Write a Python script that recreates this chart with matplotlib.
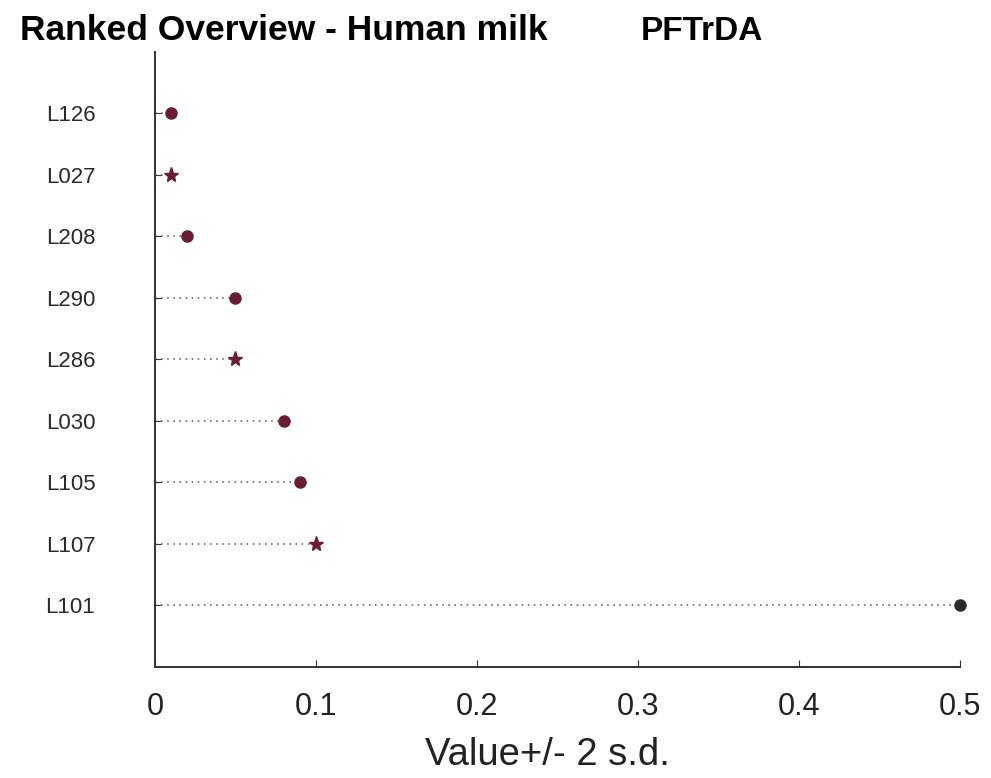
import matplotlib
matplotlib.use("Agg")
import matplotlib.pyplot as plt

plt.rcParams["font.family"] = ["Liberation Sans", "DejaVu Sans"]

LABS = ["L126", "L027", "L208", "L290", "L286", "L030", "L105", "L107", "L101"]
VALS = [0.01, 0.01, 0.02, 0.05, 0.05, 0.08, 0.09, 0.10, 0.50]
MARKS = ["o", "*", "o", "o", "*", "o", "o", "*", "o"]
COLS = ["#6a1c33"] * 8 + ["#2b2b2b"]
XTICKS = [0, 0.1, 0.2, 0.3, 0.4, 0.5]

fig = plt.figure(figsize=(9.91, 7.78), dpi=100)
ax = fig.add_axes([0.1564, 0.1427, 0.8123, 0.7905])

ys = list(range(1, len(LABS) + 1))
for y, v, m, c in zip(ys, VALS, MARKS, COLS):
    ax.plot([0, v], [y, y], ls=(0, (1, 3)), color="#555555", lw=1.1, zorder=2)
    ax.plot(v, y, marker=m, ms=8 if m == "o" else 11, color=c, mec=c, zorder=3,
            ls="none", clip_on=False)

ax.set_xlim(0, 0.5)
ax.set_ylim(10, 0)
ax.set_yticks(ys)
ax.set_yticklabels(LABS, fontsize=16, color="#2a2a2a")
ax.set_xticks(XTICKS)
ax.set_xticklabels(["0", "0.1", "0.2", "0.3", "0.4", "0.5"], fontsize=22, color="#222222")
ax.tick_params(axis="y", direction="in", length=4, pad=43, color="#333333")
ax.tick_params(axis="x", direction="in", length=5, pad=18, color="#333333")
for s in ("top", "right"):
    ax.spines[s].set_visible(False)
for s in ("left", "bottom"):
    ax.spines[s].set_linewidth(1.4)
    ax.spines[s].set_color("#333333")
lab = ax.set_xlabel("Value+/- 2 s.d.", fontsize=27.5, color="#222222")
lab.set_va("baseline")
ax.xaxis.set_label_coords(0.488, -0.159)

fig.text(0.02, 0.9486, "Ranked Overview - Human milk",
         fontsize=25.5, fontweight="bold", va="baseline", ha="left")
fig.text(0.647, 0.9486, "PFTrDA",
         fontsize=24, fontweight="bold", va="baseline", ha="left")

fig.savefig("out.png", dpi=100)
